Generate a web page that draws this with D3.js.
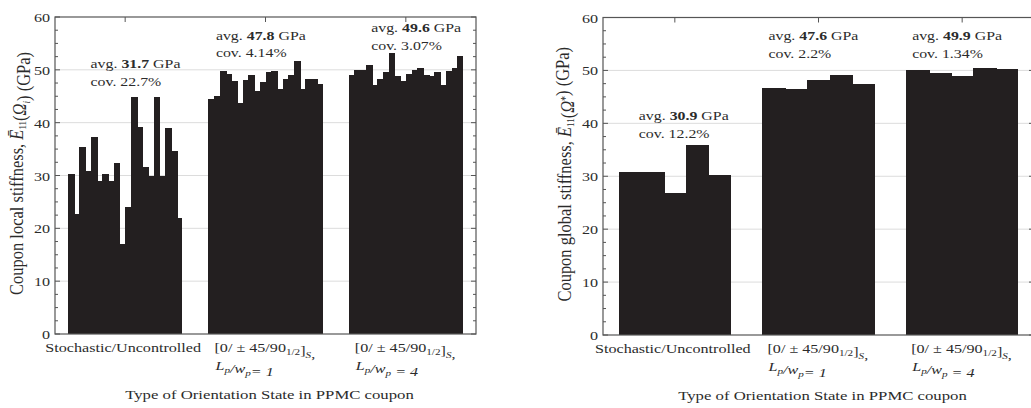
<!DOCTYPE html>
<html>
<head>
<meta charset="utf-8">
<script src="https://cdn.jsdelivr.net/npm/d3@7"></script>
<style>
  body { margin: 0; background: #fff; }
  text { font-family: "Liberation Serif", "Times New Roman", serif; fill: #2b2b2b; }
</style>
</head>
<body>
<svg id="chart" width="1031" height="408"></svg>
<script>
// values (GPa)
const categories = ["stochastic", "lp1", "lp4"];
const yTicks = [0, 10, 20, 30, 40, 50, 60];

const localStochastic = [30.3, 22.7, 35.3, 30.8, 37.2, 29.0, 30.3, 29.0, 32.4, 17.0,
  24.1, 44.8, 39.2, 31.7, 29.9, 44.8, 30.0, 38.9, 34.6, 21.9];
const localLp1 = [44.5, 45.0, 49.8, 49.3, 47.8, 43.8, 48.1, 49.1, 46.0, 47.7,
  49.5, 49.8, 46.4, 48.2, 49.0, 51.7, 46.3, 48.3, 48.3, 47.4];
const localLp4 = [49.0, 50.0, 50.0, 51.0, 47.2, 48.3, 49.5, 53.1, 48.8, 47.8,
  49.2, 50.0, 50.3, 49.0, 48.8, 49.5, 47.2, 49.7, 50.4, 52.6];
const localAvg = ["31.7", "47.8", "49.6"];
const localCov = ["22.7%", "4.14%", "3.07%"];

const globalStochastic = [30.8, 30.8, 26.8, 35.9, 30.3];
const globalLp1 = [46.6, 46.5, 48.1, 49.1, 47.4];
const globalLp4 = [50.1, 49.5, 49.0, 50.5, 50.2];
const globalAvg = ["30.9", "47.6", "49.9"];
const globalCov = ["12.2%", "2.2%", "1.34%"];

const svg = d3.select("#chart");
const sx = 1.24; // the figure is stretched horizontally

function stretchText(g, x, y, anchor, size) {
  return g.append("text")
    .attr("transform", `translate(${x},${y}) scale(${sx},1)`)
    .attr("text-anchor", anchor)
    .style("font-size", size + "px");
}

function sub(t, s, italic) {
  t.append("tspan").attr("dy", 3).style("font-size", "9px")
    .style("font-style", italic ? "italic" : null).text(s);
  t.append("tspan").attr("dy", -3).text("");
}

function drawPanel(p) {
  const g = svg.append("g");
  const x = d3.scaleBand().domain(categories).range([p.left, p.right])
    .paddingInner(p.pad).paddingOuter(p.pad / 2);
  const y = d3.scaleLinear().domain([0, 60]).range([p.bottom, p.top]);

  // grid
  g.selectAll(".grid").data(yTicks.slice(1, -1)).enter().append("line")
    .attr("x1", p.left).attr("x2", p.right)
    .attr("y1", d => y(d)).attr("y2", d => y(d))
    .attr("stroke", "#dcdcdc").attr("stroke-width", 1);

  // bars
  p.series.forEach((vals, i) => {
    const inner = d3.scaleBand().domain(d3.range(vals.length))
      .range([x(categories[i]), x(categories[i]) + x.bandwidth()]);
    g.selectAll(null).data(vals).enter().append("rect")
      .attr("x", (d, j) => inner(j))
      .attr("width", (d, j) => inner.bandwidth() + (j < vals.length - 1 ? 1 : 0))
      .attr("y", d => y(d))
      .attr("height", d => y(0) - y(d))
      .attr("fill", "#231f20")
      .attr("shape-rendering", "crispEdges");
  });

  // frame
  g.append("rect")
    .attr("x", p.left).attr("y", p.top)
    .attr("width", p.right - p.left).attr("height", p.bottom - p.top)
    .attr("fill", "none").attr("stroke", "#555").attr("stroke-width", 1.2);

  // ticks on left/right, inward
  const minor = d3.range(0, 60.01, 2.5);
  [p.left, p.right].forEach((ax, k) => {
    const dir = k === 0 ? 1 : -1;
    g.selectAll(null).data(minor).enter().append("line")
      .attr("x1", ax).attr("x2", d => ax + dir * (d % 10 === 0 ? 5 : 3))
      .attr("y1", d => y(d)).attr("y2", d => y(d))
      .attr("stroke", "#555");
  });
  // category ticks on top
  g.selectAll(null).data(categories).enter().append("line")
    .attr("x1", d => x(d) + x.bandwidth() / 2).attr("x2", d => x(d) + x.bandwidth() / 2)
    .attr("y1", p.top).attr("y2", p.top + 5)
    .attr("stroke", "#555");

  // y tick labels
  yTicks.forEach(t => {
    stretchText(g, p.left - 5, y(t) + 5, "end", 13).text(t);
  });

  // y label
  const yl = g.append("text")
    .attr("transform", `translate(${p.ylabelX},${(p.top + p.bottom) / 2 - 2}) rotate(-90) scale(1,1.15)`)
    .attr("text-anchor", "middle")
    .style("font-size", "16.5px");
  yl.append("tspan").text(p.ylabel + ", ");
  yl.append("tspan").style("font-style", "italic").text("Ē");
  sub(yl, "11", false);
  yl.append("tspan").text("(");
  yl.append("tspan").style("font-style", "italic").text("Ω");
  if (p.omega === "i") {
    sub(yl, "i", true);
  } else {
    yl.append("tspan").attr("dy", -5).style("font-size", "10px").text("*");
    yl.append("tspan").attr("dy", 5).text("");
  }
  yl.append("tspan").text(") (GPa)");

  // x tick labels
  categories.forEach((c, i) => {
    const cx = x(c) + x.bandwidth() / 2;
    if (i === 0) {
      stretchText(g, cx - 2, p.bottom + 18, "middle", 13).text("Stochastic/Uncontrolled");
      return;
    }
    const lx = cx - 51;
    const t1 = stretchText(g, lx, p.bottom + 18, "start", 13);
    t1.append("tspan").text("[0/ ± 45/90");
    sub(t1, "1/2", false);
    t1.append("tspan").text("]");
    sub(t1, "S", true);
    t1.append("tspan").text(",");
    const t2 = stretchText(g, lx + 1, p.bottom + 36, "start", 13).style("font-style", "italic");
    t2.append("tspan").text("L");
    sub(t2, "p", true);
    t2.append("tspan").text("/w");
    sub(t2, "p", true);
    t2.append("tspan").text(i === 1 ? "= 1" : " = 4");
  });

  // x title
  stretchText(g, (p.left + p.right) / 2 + 4, p.bottom + 65, "middle", 13.5)
    .text("Type of Orientation State in PPMC coupon");

  // annotations
  categories.forEach((c, i) => {
    const ax = x(c) + p.annDx[i];
    const a = stretchText(g, ax, p.annY[i], "start", 12.8);
    a.append("tspan").text("avg. ");
    a.append("tspan").style("font-weight", "bold").text(p.avg[i]);
    a.append("tspan").text(" GPa");
    stretchText(g, ax, p.annY[i] + 17.5, "start", 12.8).text("cov. " + p.cov[i]);
  });
}

drawPanel({
  left: 55, right: 476, top: 17, bottom: 334, pad: 0.186,
  series: [localStochastic, localLp1, localLp4],
  avg: localAvg, cov: localCov,
  annDx: [22.5, 7.5, 22.5], annY: [68, 39.5, 32],
  ylabel: "Coupon local stiffness", omega: "i", ylabelX: 23
});

drawPanel({
  left: 603, right: 1034, top: 17.5, bottom: 335, pad: 0.22,
  series: [globalStochastic, globalLp1, globalLp4],
  avg: globalAvg, cov: globalCov,
  annDx: [20, 6, 6], annY: [120, 40, 40],
  ylabel: "Coupon global stiffness", omega: "*", ylabelX: 571
});
</script>
</body>
</html>
